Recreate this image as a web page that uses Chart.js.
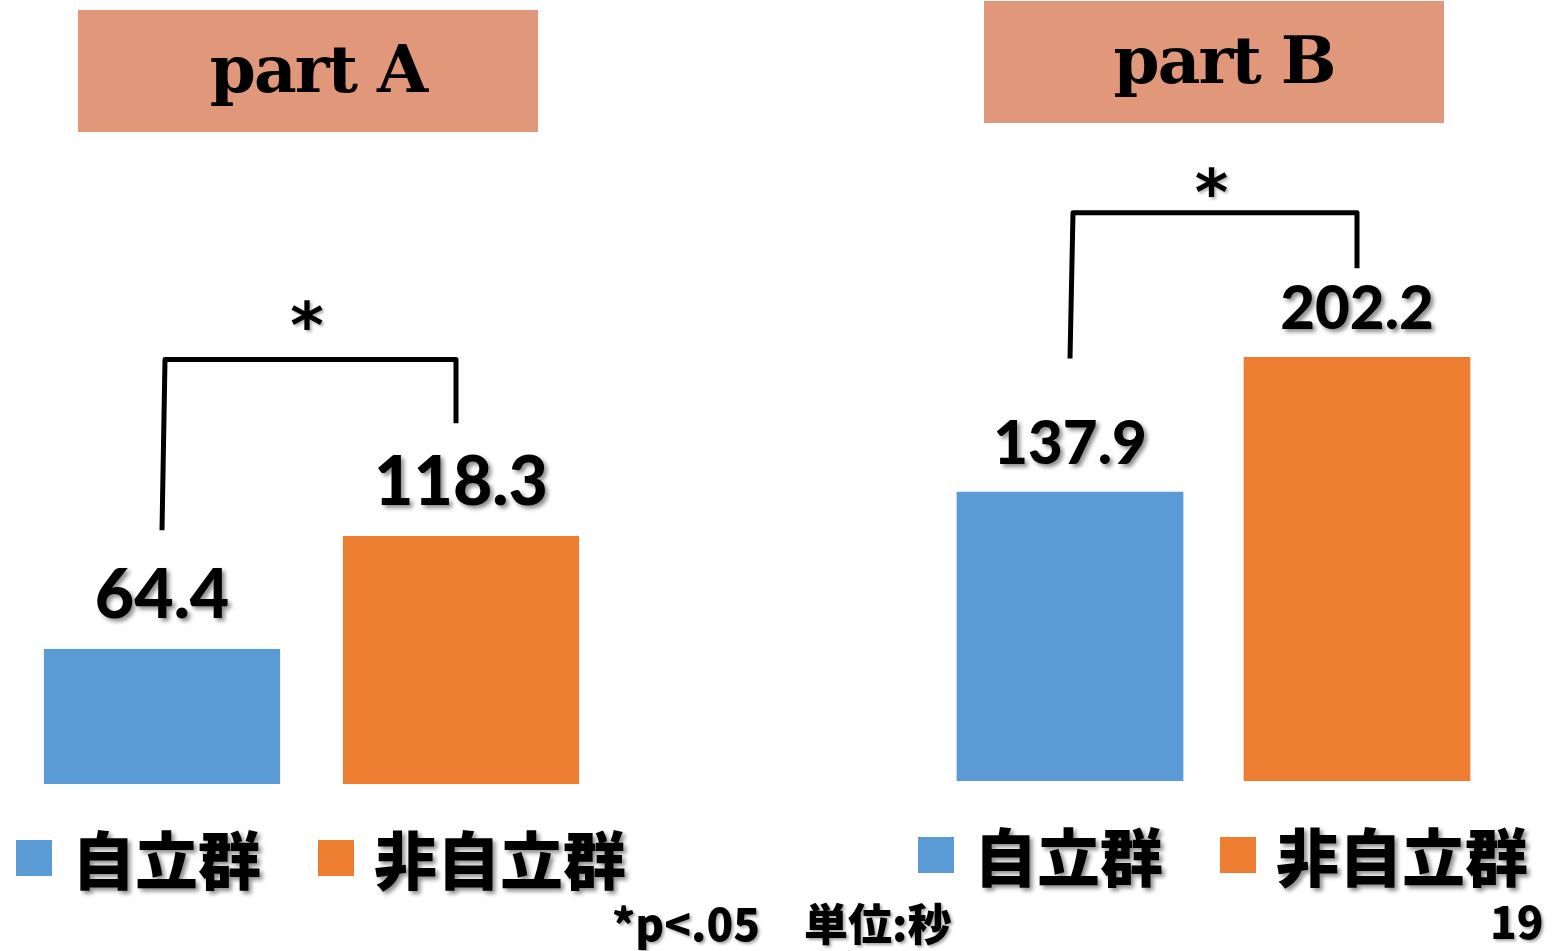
<!DOCTYPE html>
<html lang="ja">
<head>
<meta charset="utf-8">
<script src="https://cdn.jsdelivr.net/npm/chart.js@4/dist/chart.umd.min.js"></script>
<style>
  html, body { margin: 0; padding: 0; background: #fff; width: 1553px; height: 951px; overflow: hidden; }
  .panel { position: absolute; top: 0; }
  .title {
    position: absolute; width: 460px; height: 122px; background: #E0977A;
    font-family: "DejaVu Serif", serif; font-weight: bold; font-size: 66px; letter-spacing: -2px;
    line-height: 118px; text-align: center; color: #000; box-sizing: border-box; padding-left: 20px;
  }
  .note {
    position: absolute; font-family: "Noto Sans CJK JP", sans-serif; font-weight: 900;
    font-size: 44px; line-height: 1; color: #000; white-space: pre;
    text-shadow: 2px 2px 3px rgba(0,0,0,0.35);
  }
</style>
</head>
<body>
<div class="title" style="left:78px; top:10px;">part A</div>
<div class="title" style="left:984px; top:1px;">part B</div>
<div class="panel" style="left:0px;"><canvas id="chartA" width="760" height="951"></canvas></div>
<div class="panel" style="left:760px;"><canvas id="chartB" width="793" height="951"></canvas></div>
<div class="note" style="left:612px; top:900px;">*p&lt;.05　単位:秒</div>
<div class="note" style="left:1490px; top:898px;">19</div>
<script>
// 群ラベルと各パートの平均値（秒）
const groupLabels = ['自立群', '非自立群'];
const partA = [64.4, 118.3];
const partB = [137.9, 202.2];
const sigMark = '*';

const groupColors = ['#5B9BD5', '#ED7D31'];

// 棒の上に数値を描く
const valueLabelPlugin = {
  id: 'valueLabels',
  afterDatasetsDraw(chart) {
    const o = chart.options.plugins.valueLabels;
    const ctx = chart.ctx;
    ctx.save();
    ctx.font = '900 ' + o.size + 'px Lato, sans-serif';
    ctx.textAlign = 'center';
    ctx.textBaseline = 'alphabetic';
    ctx.fillStyle = '#000';
    ctx.shadowColor = 'rgba(0,0,0,0.45)';
    ctx.shadowOffsetX = 3;
    ctx.shadowOffsetY = 3;
    ctx.shadowBlur = 4;
    chart.data.datasets.forEach((ds, i) => {
      const bar = chart.getDatasetMeta(i).data[0];
      ctx.fillText(ds.data[0].toFixed(1), bar.x, bar.y - o.gap);
    });
    ctx.restore();
  }
};

// 有意差のブラケットとアスタリスク
const bracketPlugin = {
  id: 'bracket',
  afterDatasetsDraw(chart) {
    const o = chart.options.plugins.bracket;
    const y = chart.scales.y;
    const b0 = chart.getDatasetMeta(0).data[0];
    const b1 = chart.getDatasetMeta(1).data[0];
    const ctx = chart.ctx;
    const top = y.getPixelForValue(o.top);
    ctx.save();
    ctx.strokeStyle = '#000';
    ctx.lineWidth = 5;
    ctx.lineJoin = 'round';
    ctx.beginPath();
    ctx.moveTo(b0.x, y.getPixelForValue(o.left));
    ctx.lineTo(b0.x + 3, top);
    ctx.lineTo(b1.x + o.rightDx, top);
    ctx.lineTo(b1.x + o.rightDx, y.getPixelForValue(o.right));
    ctx.stroke();
    ctx.font = 'bold 64px "DejaVu Sans", sans-serif';
    ctx.fillStyle = '#000';
    ctx.textAlign = 'center';
    ctx.textBaseline = 'middle';
    ctx.shadowColor = 'rgba(0,0,0,0.3)';
    ctx.shadowOffsetX = 2;
    ctx.shadowOffsetY = 2;
    ctx.shadowBlur = 3;
    ctx.fillText(sigMark, (b0.x + b1.x + o.rightDx) / 2 - 2, top - o.starGap + 14);
    ctx.restore();
  }
};

// 凡例（四角＋群名）
const legendPlugin = {
  id: 'groupLegend',
  afterDraw(chart) {
    const o = chart.options.plugins.groupLegend;
    const ctx = chart.ctx;
    ctx.save();
    ctx.font = '900 63px "Noto Sans CJK JP", sans-serif';
    ctx.textBaseline = 'middle';
    let x = o.x;
    chart.data.datasets.forEach((ds, i) => {
      ctx.shadowColor = 'transparent';
      ctx.fillStyle = ds.backgroundColor;
      ctx.fillRect(x, o.y - 18, 36, 36);
      x += 36 + 20;
      ctx.fillStyle = '#000';
      ctx.shadowColor = 'rgba(0,0,0,0.45)';
      ctx.shadowOffsetX = 3;
      ctx.shadowOffsetY = 3;
      ctx.shadowBlur = 4;
      ctx.fillText(ds.label, x, o.y + 2);
      x += ctx.measureText(ds.label).width + 57;
    });
    ctx.restore();
  }
};

function makeChart(id, title, values, padding, extra) {
  return new Chart(document.getElementById(id), {
    type: 'bar',
    data: {
      labels: [title],
      datasets: groupLabels.map((label, i) => ({
        label: label,
        data: [values[i]],
        backgroundColor: groupColors[i],
        barPercentage: 0.79,
        categoryPercentage: 1
      }))
    },
    options: {
      responsive: false,
      animation: false,
      layout: { padding: padding },
      scales: {
        x: { display: false },
        y: { display: false, min: 0, max: 300 }
      },
      plugins: {
        legend: { display: false },
        tooltip: { enabled: false },
        valueLabels: extra.labels,
        bracket: extra.bracket,
        groupLegend: extra.legend
      }
    },
    plugins: [valueLabelPlugin, bracketPlugin, legendPlugin]
  });
}

makeChart('chartA', 'part A', partA,
  { left: 12.5, right: 149.5, top: 155, bottom: 167 },
  {
    labels: { size: 68, gap: 31 },
    bracket: { left: 121, top: 202.5, right: 172, rightDx: -5, starGap: 42 },
    legend: { x: 16, y: 858 }
  });

makeChart('chartB', 'part B', partB,
  { left: 166.5, right: 52.5, top: 152, bottom: 170 },
  {
    labels: { size: 60, gap: 28 },
    bracket: { left: 201.5, top: 271, right: 244.5, rightDx: 0, starGap: 28 },
    legend: { x: 158, y: 855 }
  });
</script>
</body>
</html>
